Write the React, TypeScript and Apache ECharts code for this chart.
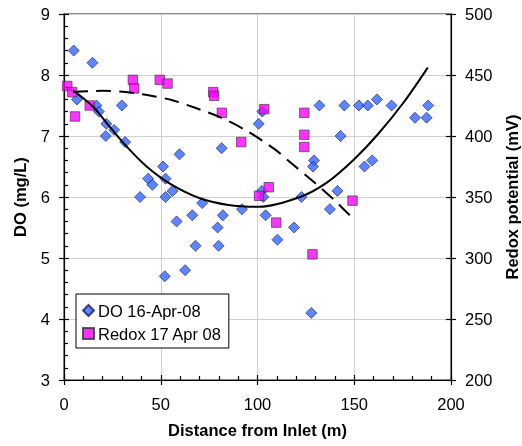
import React, { useEffect, useRef } from "react";
import * as echarts from "echarts";

// DO 16-Apr-08 (distance m, DO mg/L)
const doDistance = [5, 14.7, 6.7, 16.8, 18, 21.9, 25.9, 21.6, 29.9, 31.6, 59.7, 51.2, 52.5, 43.5, 45.7, 56.1, 39.3, 52.5, 58.2, 66.3, 68, 52.1, 62.6, 71.4, 79.4, 82.1, 79.9, 92, 102.3, 103, 104.2, 118.9, 110.3, 122.7, 137.4, 141.3, 127.8, 81.5, 100.6, 102.5, 132, 142.9, 129.2, 128.7, 144.9, 152.4, 157, 161.7, 155.3, 159.3, 169.3, 181.4, 187.4, 188.2];
const doValues = [8.4, 8.2, 7.6, 7.5, 7.4, 7.2, 7.1, 7.0, 7.5, 6.9, 6.7, 6.5, 6.3, 6.3, 6.2, 6.1, 6.0, 6.0, 5.6, 5.7, 5.2, 4.7, 4.8, 5.9, 5.5, 5.7, 5.2, 5.8, 6.1, 6.0, 5.7, 5.5, 5.3, 6.0, 5.8, 6.1, 4.1, 6.8, 7.2, 7.4, 7.5, 7.0, 6.6, 6.5, 7.5, 7.5, 7.5, 7.6, 6.5, 6.6, 7.5, 7.3, 7.3, 7.5];

// Redox 17 Apr 08 (distance m, mV)
const redoxDistance = [1.7, 4.2, 5.7, 13.3, 35.6, 36.3, 49.5, 53.5, 77.1, 77.6, 81.6, 91.6, 103.5, 124.2, 124.2, 124.2, 100.8, 105.8, 109.7, 128.4, 149.1];
const redoxValues = [441, 436, 416, 425, 446, 439, 446, 443, 436, 433, 419, 395, 422, 419, 401, 391, 351, 358, 329, 303, 347];

// Trend line for DO
const doTrendX = [4.7, 15, 23.7, 32.3, 42.7, 54.7, 70.2, 85, 101, 122, 136, 150, 162, 176, 188];
const doTrendY = [7.75, 7.48, 7.15, 6.83, 6.5, 6.22, 5.98, 5.87, 5.84, 6.0, 6.24, 6.62, 7.02, 7.57, 8.12];

// Trend line for Redox
const redoxTrendX = [4.7, 20, 32, 43, 55.6, 68.5, 80.6, 94.4, 109, 118, 129, 139, 149];
const redoxTrendY = [436, 437, 436, 433.6, 429.5, 422.7, 415.5, 404.3, 389, 377, 362.5, 348.5, 333];

const xTicks = { min: 0, max: 200, interval: 50 };
const doTicks = { min: 3, max: 9, interval: 1 };
const redoxTicks = { min: 200, max: 500, interval: 50 };

const FONT = "'Liberation Sans', Arial, sans-serif";

export default function App() {
  const ref = useRef<HTMLDivElement>(null);
  useEffect(() => {
    if (!ref.current) return;
    document.body.style.overflow = "hidden";
    const chart = echarts.init(ref.current, undefined, { renderer: "svg" });
    const zip = (a: number[], b: number[]) => a.map((v, i) => [v, b[i]]);
    const lineStyle = { color: "#000", width: 1.2 };
    const titleStyle = { fontSize: 16.5, fontWeight: "bold", color: "#000", fontFamily: FONT };
    const labelStyle = { fontSize: 16.5, color: "#000", fontFamily: FONT };
    const option: any = {
      animation: false,
      textStyle: { fontFamily: FONT },
      grid: {
        left: 64,
        right: 71,
        top: 14,
        bottom: 66,
        show: true,
        borderColor: "#666",
        borderWidth: 1.5,
        containLabel: false,
        outerBoundsMode: "none",
      },
      graphic: [
        {
          type: "text",
          x: 512,
          y: 197,
          rotation: Math.PI / 2,
          style: {
            text: "Redox potential (mV)",
            fontSize: 16.5,
            fontWeight: "bold",
            fontFamily: FONT,
            fill: "#000",
            align: "center",
            verticalAlign: "middle",
          },
        },
      ],
      legend: {
        orient: "vertical",
        left: 76,
        top: 294,
        itemWidth: 11,
        itemHeight: 11,
        itemGap: 6,
        padding: [8, 7, 6, 6],
        borderColor: "#000",
        borderWidth: 1,
        borderRadius: 0,
        backgroundColor: "#fff",
        textStyle: { fontSize: 16.5, lineHeight: 16, color: "#000", fontFamily: FONT, padding: [0, 0, 0, -1] },
        data: [
          { name: "DO 16-Apr-08", icon: "diamond" },
          { name: "Redox 17 Apr 08", icon: "rect" },
        ],
      },
      xAxis: [
        {
          type: "value",
          ...xTicks,
          position: "bottom",
          name: "Distance from Inlet (m)",
          nameLocation: "middle",
          nameGap: 41,
          nameTextStyle: titleStyle,
          axisLine: { show: true, lineStyle },
          axisTick: { show: true, inside: false, length: 5, lineStyle },
          axisLabel: { ...labelStyle, margin: 15 },
          splitLine: { show: true, lineStyle: { color: "#d0d0d0", width: 1 } },
        },
        {
          type: "value",
          ...xTicks,
          position: "bottom",
          axisLine: { show: false },
          axisTick: { show: true, inside: true, length: 5, lineStyle },
          minorTick: { show: true, splitNumber: 5, length: 4, lineStyle },
          axisLabel: { show: false },
          splitLine: { show: false },
        },
      ],
      yAxis: [
        {
          type: "value",
          ...doTicks,
          position: "left",
          name: "DO (mg/L)",
          nameLocation: "middle",
          nameGap: 36,
          nameTextStyle: titleStyle,
          axisLine: { show: true, lineStyle },
          axisTick: { show: true, inside: false, length: 5, lineStyle },
          axisLabel: { ...labelStyle, margin: 14 },
          splitLine: { show: true, lineStyle: { color: "#d0d0d0", width: 1 } },
        },
        {
          type: "value",
          ...doTicks,
          position: "left",
          axisLine: { show: false },
          axisTick: { show: true, inside: true, length: 5, lineStyle },
          minorTick: { show: true, splitNumber: 5, length: 4, lineStyle },
          axisLabel: { show: false },
          splitLine: { show: false },
        },
        {
          type: "value",
          ...redoxTicks,
          position: "right",
          axisLine: { show: true, lineStyle },
          axisTick: { show: true, inside: false, length: 5, lineStyle },
          axisLabel: { ...labelStyle, margin: 14 },
          splitLine: { show: false },
        },
        {
          type: "value",
          ...redoxTicks,
          position: "right",
          axisLine: { show: false },
          axisTick: { show: true, inside: true, length: 5, lineStyle },
          axisLabel: { show: false },
          splitLine: { show: false },
        },
      ],
      series: [
        {
          name: "DO 16-Apr-08",
          type: "scatter",
          xAxisIndex: 0,
          yAxisIndex: 0,
          symbol: "diamond",
          symbolSize: 11,
          itemStyle: { color: "#3366ff", borderColor: "#1a1a66", borderWidth: 0.8 },
          data: zip(doDistance, doValues),
          z: 3,
        },
        {
          name: "Redox 17 Apr 08",
          type: "scatter",
          xAxisIndex: 0,
          yAxisIndex: 2,
          symbol: "rect",
          symbolSize: 9.5,
          itemStyle: { color: "#ff00ff", borderColor: "#333", borderWidth: 0.8 },
          data: zip(redoxDistance, redoxValues),
          z: 4,
        },
        {
          name: "DO trend",
          type: "line",
          xAxisIndex: 0,
          yAxisIndex: 0,
          smooth: 0.3,
          showSymbol: false,
          symbol: "none",
          lineStyle: { color: "#000", width: 2 },
          data: zip(doTrendX, doTrendY),
          z: 5,
        },
        {
          name: "Redox trend",
          type: "line",
          xAxisIndex: 0,
          yAxisIndex: 2,
          smooth: 0.3,
          showSymbol: false,
          symbol: "none",
          lineStyle: { color: "#000", width: 2, type: [15, 8] },
          data: zip(redoxTrendX, redoxTrendY),
          z: 5,
        },
      ],
    };
    chart.setOption(option);
    return () => chart.dispose();
  }, []);
  return <div ref={ref} style={{ position: "fixed", left: 0, top: 0, width: 522, height: 446 }} />;
}
